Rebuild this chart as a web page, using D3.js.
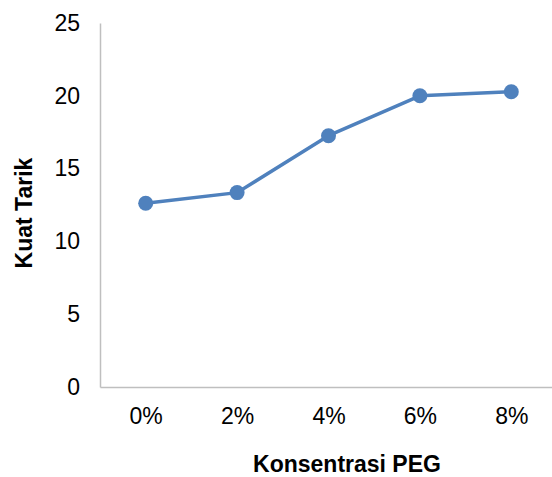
<!DOCTYPE html>
<html>
<head>
<meta charset="utf-8">
<script src="https://cdn.jsdelivr.net/npm/d3@7"></script>
<style>
  html, body { margin: 0; padding: 0; background: #fff; }
  svg { display: block; }
  text { font-family: "Liberation Sans", Arial, sans-serif; fill: #000; }
</style>
</head>
<body>
<svg id="chart" width="552" height="477"></svg>
<script>
// PEG concentration vs tensile strength
const categories = ["0%", "2%", "4%", "6%", "8%"];
const kuatTarik = [12.62, 13.35, 17.26, 20.0, 20.28];
const yTicks = [0, 5, 10, 15, 20, 25];

const svg = d3.select("#chart");
const plot = { left: 100, right: 557, top: 23, bottom: 387 };

const x = d3.scalePoint()
  .domain(categories)
  .range([plot.left, plot.right])
  .padding(0.5);

const y = d3.scaleLinear()
  .domain([0, 25])
  .range([plot.bottom, plot.top]);

const axisColor = "#BFBFBF";

// y axis
const yAxis = svg.append("g")
  .attr("transform", `translate(${plot.left},0)`)
  .call(d3.axisLeft(y).tickValues(yTicks).tickSize(0).tickPadding(20));
yAxis.select(".domain").attr("stroke", axisColor).attr("stroke-width", 1.5);
yAxis.selectAll("text")
  .style("font-family", "'Liberation Sans', Arial, sans-serif")
  .style("font-size", "23px")
  .attr("fill", "#000");

// x axis
const xAxis = svg.append("g")
  .attr("transform", `translate(0,${plot.bottom})`)
  .call(d3.axisBottom(x).tickSize(0).tickPadding(21));
xAxis.select(".domain").attr("stroke", axisColor).attr("stroke-width", 1.5);
xAxis.selectAll("text")
  .style("font-family", "'Liberation Sans', Arial, sans-serif")
  .style("font-size", "23px")
  .attr("fill", "#000");

// series line
const line = d3.line()
  .x((d, i) => x(categories[i]))
  .y(d => y(d));

svg.append("path")
  .datum(kuatTarik)
  .attr("d", line)
  .attr("fill", "none")
  .attr("stroke", "#4F81BD")
  .attr("stroke-width", 3.5)
  .attr("stroke-linejoin", "round");

svg.append("g")
  .selectAll("circle")
  .data(kuatTarik)
  .join("circle")
  .attr("cx", (d, i) => x(categories[i]))
  .attr("cy", d => y(d))
  .attr("r", 7.5)
  .attr("fill", "#4F81BD");

// axis titles
svg.append("text")
  .attr("x", 347)
  .attr("y", 472)
  .attr("text-anchor", "middle")
  .style("font-size", "23px")
  .style("font-weight", "bold")
  .text("Konsentrasi PEG");

svg.append("text")
  .attr("transform", "translate(32,213) rotate(-90)")
  .attr("text-anchor", "middle")
  .style("font-size", "23px")
  .style("font-weight", "bold")
  .text("Kuat Tarik");
</script>
</body>
</html>
